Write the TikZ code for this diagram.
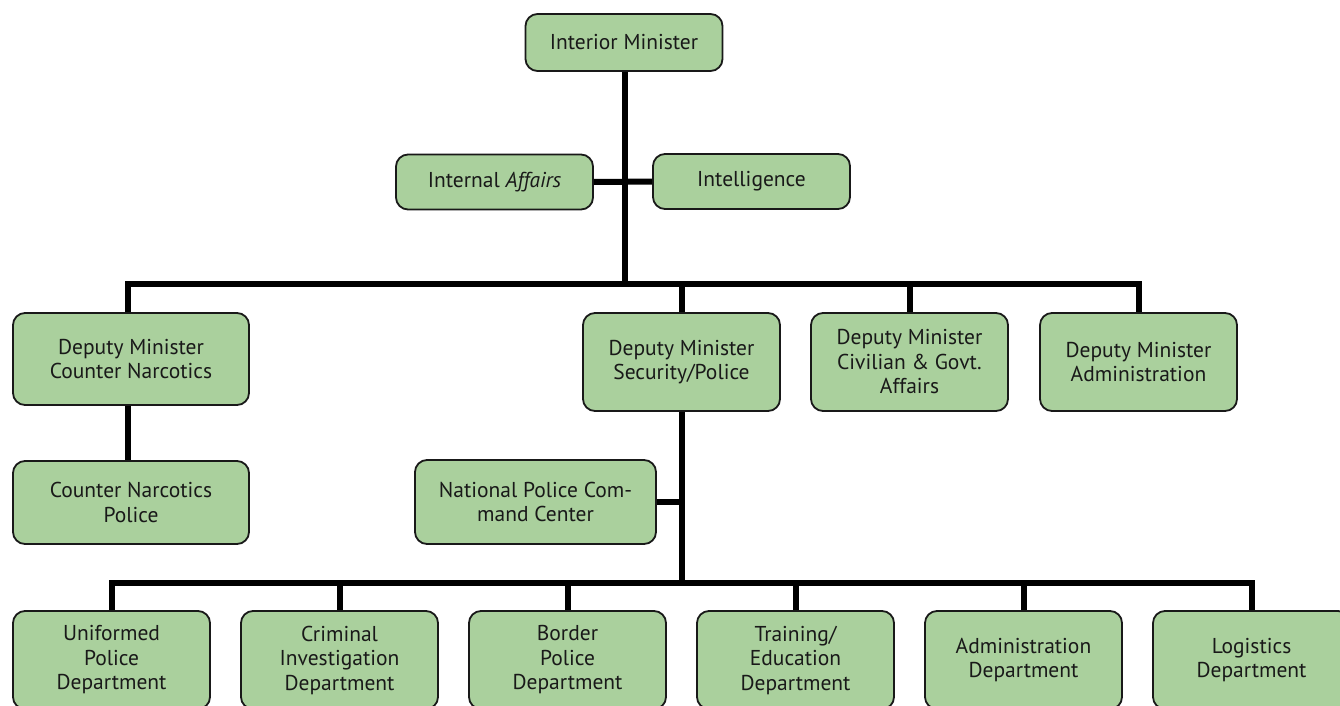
\documentclass[tikz,border=0pt]{standalone}
\usepackage{fontspec}
\setmainfont{PT Sans}
\definecolor{boxgreen}{RGB}{170,208,157}
\definecolor{boxline}{RGB}{25,25,25}
\definecolor{txt}{RGB}{25,25,25}
\begin{document}
\begin{tikzpicture}[x=1pt,y=-1pt,
  box/.style={draw=boxline,fill=boxgreen,line width=1.8pt,rounded corners=12pt,
    align=center,text=txt,inner sep=2pt,font=\fontsize{21.5}{24.5}\selectfont},
  conn/.style={line width=6pt,black}]
\useasboundingbox (0,0) rectangle (1340,706);
\clip (0,0) rectangle (1340,706);
\fill[white] (0,0) rectangle (1340,706);
% junction coordinates
\coordinate (bar1) at (0,284);
\coordinate (bar2) at (0,583);
\node[box,minimum width=197pt,minimum height=57pt] (im) at (624,42.5) {Interior Minister};
\node[box,minimum width=197pt,minimum height=55pt] (ia) at (494.5,182) {Internal \emph{Affairs}};
\node[box,minimum width=197pt,minimum height=55pt] (intel) at (751.5,181.5) {Intelligence};
\node[box,minimum width=236pt,minimum height=92pt] (dmcn) at (131,359) {Deputy Minister\\Counter Narcotics};
\node[box,minimum width=197pt,minimum height=98pt] (dmsp) at (681.5,362) {Deputy Minister\\Security/Police};
\node[box,minimum width=197pt,minimum height=98pt] (dmcg) at (909.5,362) {Deputy Minister\\Civilian \& Govt.\\Affairs};
\node[box,minimum width=197pt,minimum height=98pt] (dmad) at (1138.5,362) {Deputy Minister\\Administration};
\node[box,minimum width=236pt,minimum height=83pt] (cnp) at (131,502.5) {Counter Narcotics\\Police};
\node[box,minimum width=241pt,minimum height=84pt] (npcc) at (535.5,502) {National Police Com-\\mand Center};
\node[box,minimum width=197pt,minimum height=98pt] (d1) at (111.5,660) {Uniformed\\Police\\Department};
\node[box,minimum width=197pt,minimum height=98pt] (d2) at (339.5,660) {Criminal\\Investigation\\Department};
\node[box,minimum width=197pt,minimum height=98pt] (d3) at (567.5,660) {Border\\Police\\Department};
\node[box,minimum width=197pt,minimum height=98pt] (d4) at (795.5,660) {Training/\\Education\\Department};
\node[box,minimum width=197pt,minimum height=98pt] (d5) at (1023.5,660) {Administration\\Department};
\node[box,minimum width=197pt,minimum height=98pt] (d6) at (1251.5,660) {Logistics\\Department};
% connectors
\coordinate (top) at (im.south -| 625,0);
\draw[conn] (top) -- (top |- bar1);
\draw[conn] (ia.east) -- (intel.west);
\draw[conn] (dmcn.north -| 128,0) |- (dmad.north |- bar1) -- (dmad.north);
\draw[conn] (dmsp.north) -- (dmsp.north |- bar1);
\draw[conn] (dmcg.north) -- (dmcg.north |- bar1);
\draw[conn] (dmcn.south -| 128,0) -- (cnp.north -| 128,0);
\draw[conn] (dmsp.south) -- (dmsp.south |- bar2);
\draw[conn] (npcc.east) -- (npcc.east -| dmsp.south);
\draw[conn] (d1.north) |- (d6.north |- bar2) -- (d6.north);
\draw[conn] (d2.north) -- (d2.north |- bar2);
\draw[conn] (d3.north) -- (d3.north |- bar2);
\draw[conn] (d4.north) -- (d4.north |- bar2);
\draw[conn] (d5.north) -- (d5.north |- bar2);
\end{tikzpicture}
\end{document}
